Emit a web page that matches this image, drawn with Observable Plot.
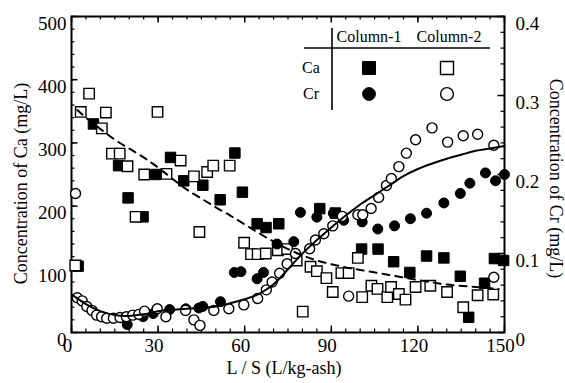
<!DOCTYPE html>
<html>
<head>
<meta charset="utf-8">
<script src="https://cdn.jsdelivr.net/npm/d3@7"></script>
<script src="https://cdn.jsdelivr.net/npm/@observablehq/plot@0.6"></script>
<style>
  html, body { margin: 0; padding: 0; background: #fff; }
</style>
</head>
<body>
<div id="chart"></div>
<script>
// Ca concentration (mg/L) vs L/S — Column-1 (filled squares)
const caX1 = [2.3, 7.6, 16.3, 19.6, 24.8, 29.2, 34.3, 38.9, 45.5, 51.5, 56.6, 59.2, 64.3, 67.4, 71.8, 86.0, 91.4, 100.5, 106.2, 111.6, 117.2, 123.0, 129.0, 134.7, 137.6, 143.1, 146.5, 149.7];
const caY1 = [105, 330, 264, 213, 183, 250, 277, 240, 233, 210, 284, 222, 172, 166, 172, 196, 189, 132, 132, 112, 95, 121, 118, 89, 24, 78, 117, 114];

// Ca concentration (mg/L) vs L/S — Column-2 (open squares)
const caX2 = [1.3, 3.2, 6.1, 10.5, 11.9, 14.0, 16.7, 19.4, 22.2, 25.2, 29.8, 32.9, 37.8, 42.4, 44.3, 47.0, 49.1, 54.8, 59.8, 62.2, 64.5, 67.3, 71.5, 74.7, 78.0, 80.1, 82.8, 85.0, 88.3, 90.5, 93.5, 96.0, 99.2, 100.7, 103.9, 106.0, 109.4, 110.7, 113.4, 115.7, 119.2, 124.3, 130.1, 135.7, 140.7, 146.1];
const caY2 = [106, 349, 378, 323, 348, 283, 283, 263, 183, 250, 349, 251, 272, 247, 159, 254, 264, 264, 142, 124, 124, 125, 130, 132, 114, 33, 104, 97, 86, 64, 94, 94, 118, 56, 74, 69, 56, 72, 61, 52, 72, 74, 64, 40, 59, 60];

// Cr concentration (mg/L) vs L/S — Column-1 (filled circles)
const crX1 = [19.3, 24.8, 28.3, 34.0, 39.6, 44.1, 45.5, 51.6, 56.4, 58.7, 64.3, 66.5, 71.2, 77.0, 79.3, 85.0, 90.7, 94.3, 100.7, 106.1, 111.9, 117.4, 123.0, 129.0, 134.7, 138.0, 143.4, 146.9, 150.0];
const crY1 = [0.010, 0.020, 0.024, 0.029, 0.030, 0.031, 0.033, 0.039, 0.076, 0.077, 0.068, 0.076, 0.112, 0.115, 0.152, 0.146, 0.151, 0.142, 0.140, 0.131, 0.135, 0.144, 0.151, 0.164, 0.176, 0.189, 0.202, 0.192, 0.200];

// Cr concentration (mg/L) vs L/S — Column-2 (open circles)
const crX2 = [1.4, 2.0, 3.7, 5.3, 7.1, 8.7, 10.4, 12.2, 14.5, 16.8, 19.0, 21.2, 23.3, 25.3, 29.7, 32.7, 39.5, 42.4, 44.5, 49.3, 54.5, 59.7, 64.5, 67.5, 69.5, 72.1, 74.7, 77.6, 82.5, 84.5, 87.4, 90.5, 93.8, 96.0, 99.2, 100.9, 103.8, 106.4, 109.1, 110.8, 113.4, 116.0, 119.2, 124.9, 130.3, 135.7, 140.7, 146.3, 146.3];
const crY2 = [0.176, 0.044, 0.040, 0.033, 0.028, 0.022, 0.020, 0.018, 0.018, 0.019, 0.020, 0.022, 0.023, 0.027, 0.030, 0.020, 0.028, 0.016, 0.009, 0.028, 0.030, 0.035, 0.043, 0.054, 0.064, 0.075, 0.087, 0.100, 0.106, 0.117, 0.125, 0.135, 0.147, 0.046, 0.149, 0.149, 0.157, 0.171, 0.186, 0.195, 0.210, 0.227, 0.244, 0.259, 0.241, 0.249, 0.251, 0.237, 0.070];

// Trend curves: Ca (dashed) and Cr (solid)
const trendCaX = [2, 5, 10, 15, 20, 25, 30, 35, 40, 45, 50, 55, 60, 65, 70, 75, 80, 85, 90, 95, 100, 110, 120, 130, 140, 148];
const trendCaY = [352, 340, 322, 305, 291, 277, 261, 243, 226, 212, 198, 185, 171, 157, 144, 132, 122, 114, 108, 103, 99, 91, 83, 76, 72, 69];
const trendCrX = [0.5, 5, 10, 15, 20, 25, 30, 40, 50, 55, 60, 65, 70, 75, 80, 85, 90, 95, 100, 105, 110, 115, 120, 125, 130, 135, 140, 145, 150];
const trendCrY = [0.047, 0.036, 0.027, 0.022, 0.021, 0.023, 0.027, 0.030, 0.033, 0.037, 0.042, 0.049, 0.061, 0.080, 0.100, 0.117, 0.133, 0.148, 0.162, 0.174, 0.186, 0.198, 0.207, 0.214, 0.220, 0.225, 0.230, 0.233, 0.236];

// Axis ticks and labels
const xTicks = [0, 30, 60, 90, 120, 150];
const caTicks = [0, 100, 200, 300, 400, 500];
const crTicks = [0, 0.1, 0.2, 0.3, 0.4];
const crTickLabels = ["0", "0.1", "0.2", "0.3", "0.4"];
const xMinor = d3.range(0, 150.001, 5);
const caMinor = d3.range(0, 500.001, 20);
const crMinor = d3.range(0, 0.4001, 0.02);

const seriesNames = ["Column-1", "Column-2"];
const elementNames = ["Ca", "Cr"];

// Cr shares the Ca y scale through the ratio of the two axis maxima
const caMax = 500, crMax = 0.4;
const k = caMax / crMax;

const ca1 = caX1.map((x, i) => ({x, y: caY1[i]}));
const ca2 = caX2.map((x, i) => ({x, y: caY2[i]}));
const cr1 = crX1.map((x, i) => ({x, y: crY1[i] * k}));
const cr2 = crX2.map((x, i) => ({x, y: crY2[i] * k}));
const trendCa = trendCaX.map((x, i) => ({x, y: trendCaY[i]}));
const trendCr = trendCrX.map((x, i) => ({x, y: trendCrY[i] * k}));

const W = 565, H = 383;
const mL = 71, mR = 61, mT = 16, mB = 51;
const fw = W - mL - mR, fh = H - mT - mB;
const major = 6.5, minor = 3.5;
const font = "'Liberation Serif', 'Times New Roman', Times, serif";

const sqR = 5.9, ciR = 5.0;

const svg = Plot.plot({
  width: W, height: H,
  marginLeft: mL, marginRight: mR, marginTop: mT, marginBottom: mB,
  x: {domain: [0, 150], axis: null},
  y: {domain: [0, caMax], axis: null},
  style: {fontFamily: font, background: "white", color: "black", overflow: "visible"},
  marks: [
    // inward ticks, bottom and top
    Plot.ruleX(xMinor, {x: d => d, insetTop: fh - minor, strokeWidth: 1.2}),
    Plot.ruleX(xMinor, {x: d => d, insetBottom: fh - minor, strokeWidth: 1.2}),
    Plot.ruleX(xTicks, {x: d => d, insetTop: fh - major, strokeWidth: 1.5}),
    Plot.ruleX(xTicks, {x: d => d, insetBottom: fh - major, strokeWidth: 1.5}),
    // inward ticks, left (Ca) and right (Cr)
    Plot.ruleY(caMinor, {y: d => d, insetRight: fw - minor, strokeWidth: 1.2}),
    Plot.ruleY(caTicks, {y: d => d, insetRight: fw - major, strokeWidth: 1.5}),
    Plot.ruleY(crMinor, {y: d => d * k, insetLeft: fw - minor, strokeWidth: 1.2}),
    Plot.ruleY(crTicks, {y: d => d * k, insetLeft: fw - major, strokeWidth: 1.5}),
    Plot.frame({stroke: "black", strokeWidth: 2}),

    // tick labels
    Plot.text(xTicks, {x: d => d, frameAnchor: "bottom", dy: 19, dx: -4, text: d => String(d), fontSize: 19, fill: "black"}),
    Plot.text(caTicks, {y: d => d, frameAnchor: "left", textAnchor: "end", dx: -5, dy: 7, text: d => String(d), fontSize: 19, fill: "black"}),
    Plot.text(crTicks, {y: d => d * k, frameAnchor: "right", textAnchor: "start", dx: 11, dy: 7, text: (d, i) => crTickLabels[i], fontSize: 19, fill: "black"}),

    // axis titles
    Plot.text(["L / S (L/kg-ash)"], {frameAnchor: "bottom", textAnchor: "middle", dy: 41, dx: -4, fontSize: 18, fill: "black"}),
    Plot.text(["Concentration of Ca (mg/L)"], {frameAnchor: "left", textAnchor: "middle", rotate: -90, dx: -50, dy: 9, fontSize: 18, fill: "black"}),
    Plot.text(["Concentration of Cr (mg/L)"], {frameAnchor: "right", textAnchor: "middle", rotate: 90, dx: 51, dy: 4, fontSize: 18, fill: "black"}),

    // data
    Plot.dot(ca1, {x: "x", y: "y", symbol: "square", r: sqR, fill: "black", stroke: "black", strokeWidth: 1}),
    Plot.dot(ca2, {x: "x", y: "y", symbol: "square", r: sqR, fill: "white", stroke: "black", strokeWidth: 1.4}),
    Plot.dot(cr1, {x: "x", y: "y", symbol: "circle", r: ciR, fill: "black", stroke: "black", strokeWidth: 1}),
    Plot.dot(cr2, {x: "x", y: "y", symbol: "circle", r: ciR, fill: "white", stroke: "black", strokeWidth: 1.4}),

    // trend curves
    Plot.line(trendCa, {x: "x", y: "y", curve: "catmull-rom", stroke: "black", strokeWidth: 2, strokeDasharray: "7,6"}),
    Plot.line(trendCr, {x: "x", y: "y", curve: "catmull-rom", stroke: "black", strokeWidth: 2})
  ]
});

// Legend table in the upper right of the frame
const g = d3.select(svg).append("g")
  .attr("font-family", font)
  .attr("fill", "black");

const colX = [369, 449];          // symbol / header column centres
const rowY = [68, 94];            // Ca and Cr rows
g.append("line").attr("x1", 332).attr("x2", 332).attr("y1", 28).attr("y2", 110)
  .attr("stroke", "black").attr("stroke-width", 1.6);
g.append("line").attr("x1", 304).attr("x2", 490).attr("y1", 48).attr("y2", 48)
  .attr("stroke", "black").attr("stroke-width", 1.6);
seriesNames.forEach((s, i) => {
  g.append("text").attr("x", colX[i]).attr("y", 38).attr("text-anchor", "middle")
    .attr("dominant-baseline", "middle").attr("font-size", 16).text(s);
});
elementNames.forEach((s, i) => {
  g.append("text").attr("x", 311).attr("y", rowY[i] + 1).attr("text-anchor", "middle")
    .attr("dominant-baseline", "middle").attr("font-size", 16).text(s);
});
const legSq = d3.symbol(d3.symbolSquare, 13 * 13)();
const legCi = d3.symbol(d3.symbolCircle, Math.PI * 6.4 * 6.4)();
[[legSq, 0], [legCi, 1]].forEach(([path, r]) => {
  g.append("path").attr("d", path).attr("transform", `translate(${colX[0]},${rowY[r]})`)
    .attr("fill", "black").attr("stroke", "black");
  g.append("path").attr("d", path).attr("transform", `translate(${colX[1] - 2},${rowY[r]})`)
    .attr("fill", "white").attr("stroke", "black").attr("stroke-width", 1.4);
});

document.getElementById("chart").appendChild(svg);
</script>
</body>
</html>
